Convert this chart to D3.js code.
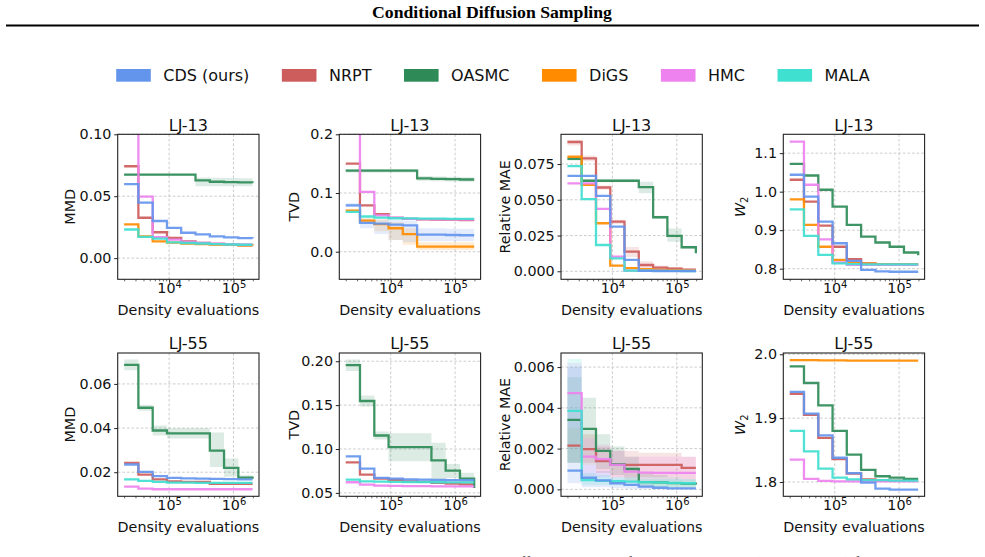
<!DOCTYPE html>
<html>
<head>
<meta charset="utf-8">
<script src="https://cdn.jsdelivr.net/npm/d3@7"></script>
<style>
  body { margin: 0; background: #fff; }
  svg { font-family: "DejaVu Sans", sans-serif; }
</style>
</head>
<body>
<div id="chart"></div>
<script>
"use strict";

// Methods (legend order) and colours
const methods = ["CDS (ours)", "NRPT", "OASMC", "DiGS", "HMC", "MALA"];
const colors = ["#6495ED", "#CD5C5C", "#2E8B57", "#FF8C00", "#EE82EE", "#40E0D0"];

// Density evaluation grids
const evalsLJ13 = [2000, 3330, 5560, 9260, 15400, 25700, 42900, 71400, 119000, 198000];
const evalsLJ55 = [20000, 33300, 55600, 92600, 154000, 257000, 429000, 714000, 1190000, 1980000];

// ---------------- LJ-13 ----------------
const mmdLJ13 = {
    "CDS (ours)": [0.0598, 0.0448, 0.0300, 0.0245, 0.0205, 0.0192, 0.0175, 0.0168, 0.0162, 0.0160],
    "NRPT":       [0.0742, 0.0326, 0.0209, 0.0163, 0.0136, 0.0122, 0.0114, 0.0109, 0.0103, 0.0103],
    "OASMC":      [0.0674, 0.0674, 0.0674, 0.0674, 0.0674, 0.0628, 0.0617, 0.0614, 0.0611, 0.0608],
    "DiGS":       [0.0272, 0.0175, 0.0135, 0.0125, 0.0118, 0.0113, 0.0110, 0.0107, 0.0104, 0.0102],
    "HMC":        [0.1500, 0.0497, 0.0170, 0.0150, 0.0132, 0.0122, 0.0116, 0.0112, 0.0110, 0.0110],
    "MALA":       [0.0231, 0.0171, 0.0158, 0.0128, 0.0122, 0.0118, 0.0113, 0.0110, 0.0108, 0.0108]
};
const mmdLJ13Bands = {
    "OASMC": {
        lo: [0.0666, 0.0666, 0.0666, 0.0666, 0.0666, 0.0580, 0.0580, 0.0580, 0.0580, 0.0580],
        hi: [0.0682, 0.0682, 0.0682, 0.0682, 0.0682, 0.0652, 0.0650, 0.0648, 0.0646, 0.0646]
    }
};

const tvdLJ13 = {
    "CDS (ours)": [0.079, 0.049, 0.048, 0.046, 0.045, 0.029, 0.029, 0.0285, 0.028, 0.028],
    "NRPT":       [0.150, 0.079, 0.064, 0.0575, 0.056, 0.055, 0.0548, 0.0545, 0.054, 0.054],
    "OASMC":      [0.138, 0.138, 0.138, 0.138, 0.138, 0.125, 0.124, 0.1235, 0.123, 0.123],
    "DiGS":       [0.070, 0.053, 0.047, 0.040, 0.030, 0.0085, 0.0085, 0.0085, 0.0085, 0.0085],
    "HMC":        [0.300, 0.102, 0.062, 0.058, 0.056, 0.0555, 0.055, 0.055, 0.0545, 0.0545],
    "MALA":       [0.068, 0.060, 0.058, 0.057, 0.0568, 0.0565, 0.0562, 0.056, 0.0558, 0.0558]
};
const tvdLJ13Bands = {
    "CDS (ours)": {
        lo: [0.076, 0.040, 0.030, 0.020, 0.016, 0.018, 0.018, 0.018, 0.018, 0.018],
        hi: [0.083, 0.056, 0.055, 0.054, 0.053, 0.040, 0.040, 0.039, 0.039, 0.039]
    },
    "OASMC": {
        lo: [0.135, 0.135, 0.135, 0.135, 0.135, 0.121, 0.120, 0.1195, 0.119, 0.119],
        hi: [0.141, 0.141, 0.141, 0.141, 0.141, 0.129, 0.128, 0.1275, 0.127, 0.127]
    },
    "DiGS": {
        lo: [0.067, 0.048, 0.035, 0.020, 0.012, 0.003, 0.003, 0.003, 0.003, 0.003],
        hi: [0.073, 0.057, 0.055, 0.050, 0.040, 0.016, 0.016, 0.016, 0.016, 0.016]
    }
};

const maeLJ13 = {
    "CDS (ours)": [0.0667, 0.0667, 0.0527, 0.0313, 0.0080, 0.0003, 0.0002, 0.0001, 0.0001, 0.0001],
    "NRPT":       [0.0904, 0.0790, 0.0586, 0.0348, 0.0138, 0.0044, 0.0025, 0.0018, 0.0012, 0.0012],
    "OASMC":      [0.0787, 0.0633, 0.0633, 0.0633, 0.0633, 0.0589, 0.0378, 0.0247, 0.0168, 0.0126],
    "DiGS":       [0.0801, 0.0605, 0.0336, 0.0040, 0.0022, 0.0015, 0.0010, 0.0008, 0.0006, 0.0006],
    "HMC":        [0.0615, 0.0615, 0.0436, 0.0103, 0.0005, 0.0004, 0.0003, 0.0003, 0.0003, 0.0003],
    "MALA":       [0.0736, 0.0505, 0.0184, 0.0091, 0.0005, 0.0004, 0.0003, 0.0003, 0.0002, 0.0002]
};
const maeLJ13Bands = {
    "OASMC": {
        lo: [0.0775, 0.0623, 0.0623, 0.0623, 0.0623, 0.0545, 0.0368, 0.0207, 0.0158, 0.0116],
        hi: [0.0800, 0.0643, 0.0643, 0.0643, 0.0643, 0.0627, 0.0388, 0.0300, 0.0178, 0.0136]
    },
    "NRPT": {
        lo: [0.0880, 0.0770, 0.0570, 0.0330, 0.0100, 0.0020, 0.0010, 0.0010, 0.0005, 0.0005],
        hi: [0.0920, 0.0810, 0.0600, 0.0360, 0.0170, 0.0070, 0.0040, 0.0030, 0.0020, 0.0020]
    }
};

const w2LJ13 = {
    "CDS (ours)": [1.044, 0.987, 0.922, 0.866, 0.820, 0.797, 0.793, 0.792, 0.792, 0.792],
    "NRPT":       [1.031, 0.974, 0.912, 0.857, 0.825, 0.814, 0.811, 0.811, 0.811, 0.811],
    "OASMC":      [1.072, 1.042, 1.005, 0.961, 0.914, 0.883, 0.868, 0.857, 0.842, 0.835],
    "DiGS":       [0.980, 0.914, 0.857, 0.823, 0.816, 0.813, 0.812, 0.811, 0.811, 0.811],
    "HMC":        [1.130, 1.018, 0.876, 0.816, 0.810, 0.810, 0.810, 0.810, 0.810, 0.810],
    "MALA":       [0.954, 0.885, 0.836, 0.814, 0.812, 0.811, 0.811, 0.811, 0.811, 0.811]
};

// ---------------- LJ-55 ----------------
const mmdLJ55 = {
    "CDS (ours)": [0.0235, 0.0202, 0.0182, 0.0174, 0.0172, 0.0171, 0.0170, 0.0169, 0.0168, 0.0168],
    "NRPT":       [0.0242, 0.0189, 0.0168, 0.0159, 0.0156, 0.0156, 0.0147, 0.0147, 0.0147, 0.0147],
    "OASMC":      [0.0686, 0.0492, 0.0389, 0.0376, 0.0376, 0.0376, 0.0298, 0.0220, 0.0176, 0.0171],
    "HMC":        [0.0135, 0.0126, 0.0123, 0.0123, 0.0123, 0.0123, 0.0123, 0.0123, 0.0123, 0.0123],
    "MALA":       [0.0168, 0.0161, 0.0156, 0.0153, 0.0153, 0.0152, 0.0152, 0.0152, 0.0152, 0.0152]
};
const mmdLJ55Bands = {
    "OASMC": {
        lo: [0.0662, 0.0478, 0.0366, 0.0353, 0.0353, 0.0353, 0.0224, 0.0180, 0.0166, 0.0161],
        hi: [0.0710, 0.0506, 0.0412, 0.0399, 0.0399, 0.0399, 0.0380, 0.0262, 0.0186, 0.0181]
    }
};

const tvdLJ55 = {
    "CDS (ours)": [0.0916, 0.0776, 0.0670, 0.0663, 0.0655, 0.0650, 0.0648, 0.0646, 0.0646, 0.0646],
    "NRPT":       [0.0848, 0.0708, 0.0663, 0.0647, 0.0632, 0.0625, 0.0613, 0.0605, 0.0598, 0.0598],
    "OASMC":      [0.1955, 0.1547, 0.1154, 0.1022, 0.1022, 0.1022, 0.0870, 0.0753, 0.0663, 0.0557],
    "HMC":        [0.0621, 0.0594, 0.0583, 0.0580, 0.0578, 0.0576, 0.0575, 0.0574, 0.0573, 0.0573],
    "MALA":       [0.0651, 0.0632, 0.0628, 0.0625, 0.0623, 0.0622, 0.0621, 0.0620, 0.0620, 0.0620]
};
const tvdLJ55Bands = {
    "OASMC": {
        lo: [0.1890, 0.1485, 0.1107, 0.0860, 0.0860, 0.0860, 0.0650, 0.0670, 0.0600, 0.0540],
        hi: [0.2020, 0.1610, 0.1200, 0.1180, 0.1180, 0.1180, 0.1070, 0.0830, 0.0730, 0.0580]
    }
};

const maeLJ55 = {
    "CDS (ours)": [0.00092, 0.00057, 0.00044, 0.00030, 0.00022, 0.00013, 0.00008, 0.00005, 0.00005, 0.00005],
    "NRPT":       [0.00215, 0.00197, 0.00139, 0.00120, 0.00120, 0.00120, 0.00120, 0.00120, 0.00105, 0.00105],
    "OASMC":      [0.00341, 0.00297, 0.00189, 0.00123, 0.00100, 0.00036, 0.00034, 0.00031, 0.00028, 0.00024],
    "HMC":        [0.00472, 0.00161, 0.00148, 0.00120, 0.00087, 0.00082, 0.00081, 0.00081, 0.00081, 0.00081],
    "MALA":       [0.00385, 0.00046, 0.00042, 0.00040, 0.00038, 0.00036, 0.00034, 0.00032, 0.00030, 0.00030]
};
const maeLJ55Bands = {
    "CDS (ours)": {
        lo: [0.0003, 0.0001, 0.0001, 0.00005, 0.00003, 0.00002, 0.00001, 0, 0, 0],
        hi: [0.0060, 0.0012, 0.0009, 0.0006, 0.0004, 0.00025, 0.00018, 0.00012, 0.0001, 0.0001]
    },
    "NRPT": {
        lo: [0.0013, 0.0013, 0.0008, 0.0006, 0.0006, 0.0006, 0.0006, 0.0006, 0.0005, 0.0005],
        hi: [0.0030, 0.0027, 0.0021, 0.0019, 0.0019, 0.0018, 0.0018, 0.0018, 0.0016, 0.0016]
    },
    "OASMC": {
        lo: [0.0013, 0.0012, 0.0010, 0.0007, 0.0004, 0.0001, 0.0001, 0.0001, 0.0001, 0.0001],
        hi: [0.0055, 0.0045, 0.0027, 0.0021, 0.0016, 0.0008, 0.0007, 0.0006, 0.0005, 0.0005]
    },
    "HMC": {
        lo: [0.0030, 0.0006, 0.0006, 0.0006, 0.0004, 0.0004, 0.0004, 0.0004, 0.0004, 0.0004],
        hi: [0.0062, 0.0025, 0.0022, 0.0019, 0.0016, 0.0016, 0.0016, 0.0016, 0.0016, 0.0016]
    },
    "MALA": {
        lo: [0.0013, 0.0002, 0.0002, 0.0002, 0.0002, 0.0002, 0.0001, 0.0001, 0.0001, 0.0001],
        hi: [0.0064, 0.0008, 0.0007, 0.0006, 0.0006, 0.0005, 0.0005, 0.0005, 0.0005, 0.0005]
    }
};

const w2LJ55 = {
    "CDS (ours)": [1.941, 1.907, 1.873, 1.838, 1.814, 1.799, 1.7896, 1.788, 1.788, 1.788],
    "NRPT":       [1.938, 1.905, 1.869, 1.836, 1.813, 1.804, 1.8026, 1.802, 1.802, 1.802],
    "OASMC":      [1.981, 1.955, 1.920, 1.880, 1.843, 1.819, 1.809, 1.807, 1.805, 1.805],
    "DiGS":       [1.991, 1.991, 1.9905, 1.9905, 1.990, 1.990, 1.990, 1.990, 1.990, 1.990],
    "HMC":        [1.835, 1.805, 1.8016, 1.801, 1.801, 1.801, 1.801, 1.801, 1.801, 1.801],
    "MALA":       [1.880, 1.848, 1.821, 1.807, 1.804, 1.803, 1.803, 1.802, 1.802, 1.802]
};

// Tick values
const ticksMmdLJ13 = [0.00, 0.05, 0.10];
const ticksTvdLJ13 = [0.0, 0.1, 0.2];
const ticksMaeLJ13 = [0.000, 0.025, 0.050, 0.075];
const ticksW2LJ13 = [0.8, 0.9, 1.0, 1.1];
const ticksMmdLJ55 = [0.02, 0.04, 0.06];
const ticksTvdLJ55 = [0.05, 0.10, 0.15, 0.20];
const ticksMaeLJ55 = [0.000, 0.002, 0.004, 0.006];
const ticksW2LJ55 = [1.8, 1.9, 2.0];
const xTicksLJ13 = [1e4, 1e5];
const xTicksLJ55 = [1e5, 1e6];

// -----------------------------------------------------------------------
// Layout
// -----------------------------------------------------------------------
const W = 985, H = 557;
const colLeft = [117.7, 339.3, 561, 783.3];
const rowTop = [134.3, 353];
const axW = 141.3;
const axH = [145, 143.3];
const labelOffset = [43, 40.5, 51.5, 38.5];
const drawOrder = ["NRPT", "OASMC", "DiGS", "HMC", "MALA", "CDS (ours)"];

const panels = [
    {col: 0, row: 0, title: "LJ-13", ylabel: "MMD", evals: evalsLJ13, series: mmdLJ13, bands: mmdLJ13Bands,
     yDomain: [-0.0171, 0.10], yTicks: ticksMmdLJ13, yFmt: ".2f", xTicks: xTicksLJ13},
    {col: 1, row: 0, title: "LJ-13", ylabel: "TVD", evals: evalsLJ13, series: tvdLJ13, bands: tvdLJ13Bands,
     yDomain: [-0.047, 0.20], yTicks: ticksTvdLJ13, yFmt: ".1f", xTicks: xTicksLJ13},
    {col: 2, row: 0, title: "LJ-13", ylabel: "Relative MAE", evals: evalsLJ13, series: maeLJ13, bands: maeLJ13Bands,
     yDomain: [-0.0056, 0.0958], yTicks: ticksMaeLJ13, yFmt: ".3f", xTicks: xTicksLJ13},
    {col: 3, row: 0, title: "LJ-13", ylabel: "W2", evals: evalsLJ13, series: w2LJ13, bands: {},
     yDomain: [0.7724, 1.149], yTicks: ticksW2LJ13, yFmt: ".1f", xTicks: xTicksLJ13},
    {col: 0, row: 1, title: "LJ-55", ylabel: "MMD", evals: evalsLJ55, series: mmdLJ55, bands: mmdLJ55Bands,
     yDomain: [0.0091, 0.074], yTicks: ticksMmdLJ55, yFmt: ".2f", xTicks: xTicksLJ55},
    {col: 1, row: 1, title: "LJ-55", ylabel: "TVD", evals: evalsLJ55, series: tvdLJ55, bands: tvdLJ55Bands,
     yDomain: [0.0461, 0.2094], yTicks: ticksTvdLJ55, yFmt: ".2f", xTicks: xTicksLJ55},
    {col: 2, row: 1, title: "LJ-55", ylabel: "Relative MAE", evals: evalsLJ55, series: maeLJ55, bands: maeLJ55Bands,
     yDomain: [-0.00034, 0.00669], yTicks: ticksMaeLJ55, yFmt: ".3f", xTicks: xTicksLJ55},
    {col: 3, row: 1, title: "LJ-55", ylabel: "W2", evals: evalsLJ55, series: w2LJ55, bands: {},
     yDomain: [1.7776, 2.002], yTicks: ticksW2LJ55, yFmt: ".1f", xTicks: xTicksLJ55}
];

const svg = d3.select("#chart").append("svg")
    .attr("width", W)
    .attr("height", H);

svg.append("rect").attr("width", W).attr("height", H).attr("fill", "#fff");

// Page header
svg.append("text")
    .attr("x", 492)
    .attr("y", 17.5)
    .attr("text-anchor", "middle")
    .attr("font-family", "'Liberation Serif', 'Times New Roman', serif")
    .attr("font-weight", "bold")
    .attr("font-size", 17.7)
    .text("Conditional Diffusion Sampling");

svg.append("line")
    .attr("x1", 6).attr("x2", 979)
    .attr("y1", 25.5).attr("y2", 25.5)
    .attr("stroke", "#000")
    .attr("stroke-width", 2.2);

// Legend
var lx = 116.2;
methods.forEach(function (m, i) {
    svg.append("rect")
        .attr("x", lx).attr("y", 69)
        .attr("width", 34.6).attr("height", 12.7)
        .attr("fill", colors[i]);
    var t = svg.append("text")
        .attr("x", lx + 34.6 + 12.5)
        .attr("y", 75.3)
        .attr("dy", "0.35em")
        .attr("font-size", 16)
        .attr("fill", "#111")
        .text(m);
    lx += 34.6 + 12.5 + t.node().getComputedTextLength() + 32.5;
});

// -----------------------------------------------------------------------
// Panels
// -----------------------------------------------------------------------
function colorOf(m) {
    return colors[methods.indexOf(m)];
}

function drawPanel(p, idx) {
    var h = axH[p.row];
    var g = svg.append("g")
        .attr("transform", "translate(" + colLeft[p.col] + "," + rowTop[p.row] + ")");

    // log x with matplotlib-like 5% margins
    var lo = Math.log10(d3.min(p.evals)), hi = Math.log10(d3.max(p.evals));
    var pad = (hi - lo) * 0.05;
    var xScale = d3.scaleLog().domain([Math.pow(10, lo - pad), Math.pow(10, hi + pad)]).range([0, axW]);
    var yScale = d3.scaleLinear().domain(p.yDomain).range([h, 0]);

    var clipId = "clip" + idx;
    g.append("clipPath").attr("id", clipId)
        .append("rect").attr("width", axW).attr("height", h);

    // grid
    var grid = g.append("g")
        .attr("stroke", "#b0b0b0")
        .attr("stroke-width", 0.8)
        .attr("stroke-dasharray", "2.6,2")
        .attr("opacity", 0.8);
    p.xTicks.forEach(function (t) {
        grid.append("line").attr("x1", xScale(t)).attr("x2", xScale(t)).attr("y1", 0).attr("y2", h);
    });
    p.yTicks.forEach(function (t) {
        grid.append("line").attr("x1", 0).attr("x2", axW).attr("y1", yScale(t)).attr("y2", yScale(t));
    });

    var plot = g.append("g").attr("clip-path", "url(#" + clipId + ")");
    var idxs = d3.range(p.evals.length);

    // shaded bands
    drawOrder.forEach(function (m) {
        var b = p.bands[m];
        if (!b) return;
        var area = d3.area()
            .x(function (i) { return xScale(p.evals[i]); })
            .y0(function (i) { return yScale(b.lo[i]); })
            .y1(function (i) { return yScale(b.hi[i]); })
            .curve(d3.curveStepAfter);
        plot.append("path")
            .datum(idxs)
            .attr("d", area)
            .attr("fill", colorOf(m))
            .attr("fill-opacity", 0.17);
    });

    // step lines
    drawOrder.forEach(function (m) {
        var vals = p.series[m];
        if (!vals) return;
        var line = d3.line()
            .x(function (d, i) { return xScale(p.evals[i]); })
            .y(function (d) { return yScale(d); })
            .curve(d3.curveStepAfter);
        plot.append("path")
            .datum(vals)
            .attr("d", line)
            .attr("fill", "none")
            .attr("stroke", colorOf(m))
            .attr("stroke-width", 2.3)
            .attr("stroke-opacity", 0.92);
    });

    // y axis
    var yAxis = d3.axisLeft(yScale)
        .tickValues(p.yTicks)
        .tickFormat(d3.format(p.yFmt))
        .tickSize(3.5)
        .tickPadding(2.8);
    var ya = g.append("g").call(yAxis);
    ya.select(".domain").remove();
    ya.attr("font-size", 14.3).attr("font-family", null);
    ya.selectAll("line").attr("stroke", "#222");
    ya.selectAll("text").attr("fill", "#111");

    // x axis: minor ticks
    var dom = xScale.domain();
    var minors = [];
    for (var e = Math.floor(Math.log10(dom[0])); e <= Math.ceil(Math.log10(dom[1])); e++) {
        for (var k = 2; k <= 9; k++) {
            var v = k * Math.pow(10, e);
            if (v >= dom[0] && v <= dom[1]) minors.push(v);
        }
    }
    var xMinor = g.append("g")
        .attr("transform", "translate(0," + h + ")")
        .call(d3.axisBottom(xScale).tickValues(minors).tickFormat("").tickSize(2));
    xMinor.select(".domain").remove();
    xMinor.selectAll("line").attr("stroke", "#222").attr("stroke-width", 0.7);

    // x axis: major ticks with 10^n labels
    var xa = g.append("g")
        .attr("transform", "translate(0," + h + ")")
        .call(d3.axisBottom(xScale).tickValues(p.xTicks).tickFormat("").tickSize(3.5));
    xa.select(".domain").remove();
    xa.selectAll("line").attr("stroke", "#222");
    xa.selectAll(".tick").each(function (d) {
        var t = d3.select(this).select("text");
        t.attr("y", 13.3).attr("dy", null)
            .attr("font-size", 14.3)
            .attr("font-family", "DejaVu Sans, sans-serif")
            .attr("fill", "#111");
        t.append("tspan").text("10");
        t.append("tspan")
            .attr("dy", "-0.48em")
            .attr("font-size", "0.7em")
            .text(Math.round(Math.log10(d)));
    });

    // spines
    g.append("rect")
        .attr("width", axW).attr("height", h)
        .attr("fill", "none")
        .attr("stroke", "#222")
        .attr("stroke-width", 1.1);

    // title
    g.append("text")
        .attr("x", axW / 2)
        .attr("y", -3.8)
        .attr("text-anchor", "middle")
        .attr("font-size", 16)
        .attr("fill", "#111")
        .text(p.title);

    // x label
    g.append("text")
        .attr("x", axW / 2)
        .attr("y", h + 35.5)
        .attr("text-anchor", "middle")
        .attr("font-size", 14.3)
        .attr("fill", "#111")
        .text("Density evaluations");

    // y label
    var yl = g.append("text")
        .attr("transform", "translate(" + (-labelOffset[p.col]) + "," + (h / 2) + ")rotate(-90)")
        .attr("text-anchor", "middle")
        .attr("font-size", 14.3)
        .attr("fill", "#111");
    if (p.ylabel === "W2") {
        yl.append("tspan").attr("font-style", "italic").text("W");
        yl.append("tspan").attr("dy", "0.3em").attr("font-size", "0.7em").text("2");
    } else {
        yl.text(p.ylabel);
    }
}

panels.forEach(drawPanel);

// Caption (cut by the bottom edge of the page, as in the source)
svg.append("text")
    .attr("x", 66)
    .attr("y", 567)
    .attr("font-family", "'Liberation Serif', 'Times New Roman', serif")
    .attr("font-size", 15)
    .attr("fill", "#222")
    .html("<tspan font-weight='bold'>Figure 4. Comparison of samplers on LJ-13 and LJ-55.</tspan> Metrics under different numbers of density evaluations (lower is better) for all methods.");
</script>
</body>
</html>
